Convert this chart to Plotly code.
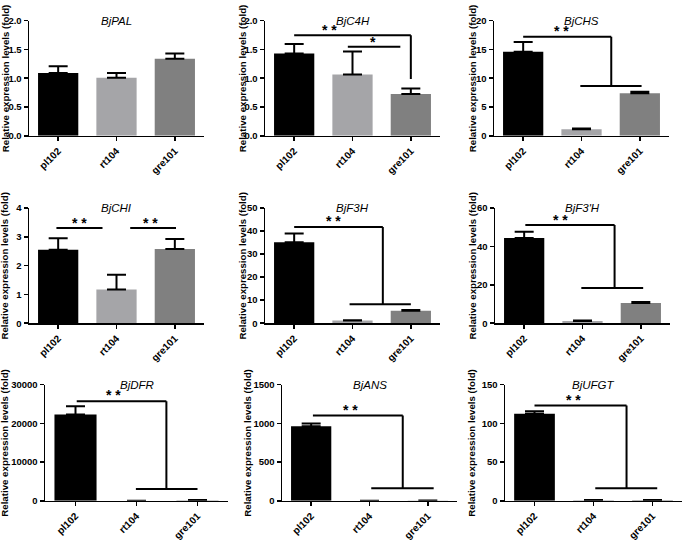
import plotly.graph_objects as go

W, H = 685, 541

categories = ["pl102", "rt104", "gre101"]
genes = ["BjPAL", "BjC4H", "BjCHS", "BjCHI", "BjF3H", "BjF3'H", "BjDFR", "BjANS", "BjUFGT"]

pal_mean = [1.09, 1.01, 1.34]
pal_err = [0.12, 0.08, 0.09]
c4h_mean = [1.43, 1.065, 0.725]
c4h_err = [0.165, 0.40, 0.095]
chs_mean = [14.6, 1.13, 7.37]
chs_err = [1.7, 0.12, 0.28]
chi_mean = [2.55, 1.17, 2.58]
chi_err = [0.40, 0.51, 0.34]
f3h_mean = [35.1, 1.13, 5.4]
f3h_err = [3.85, 0.2, 0.3]
f3ph_mean = [44.4, 1.2, 10.46]
f3ph_err = [3.3, 0.2, 0.55]
dfr_mean = [22320, 1, 150]
dfr_err = [2130, 0, 30]
ans_mean = [964, 1, 3]
ans_err = [35, 0.2, 0.5]
ufgt_mean = [112.4, 1, 1]
ufgt_err = [3.4, 0.1, 0.1]

means = [pal_mean, c4h_mean, chs_mean, chi_mean, f3h_mean, f3ph_mean, dfr_mean, ans_mean, ufgt_mean]
errs = [pal_err, c4h_err, chs_err, chi_err, f3h_err, f3ph_err, dfr_err, ans_err, ufgt_err]

y_max = [2.0, 2.0, 20, 4, 50, 60, 30000, 1500, 150]
y_dtick = [0.5, 0.5, 5, 1, 10, 20, 10000, 500, 50]
y_fmt = [".1f", ".1f", "d", "d", "d", "d", "d", "d", "d"]

# significance brackets (data units: category index, value)
sig_segments = [
    [],
    [(0, 1.745, 2, 1.745), (2, 1.745, 2, 0.985), (0.92, 1.545, 1.82, 1.545)],
    [(0, 17.2, 1.51, 17.2), (1.51, 17.2, 1.51, 8.67), (0.98, 8.67, 2.03, 8.67)],
    [(-0.03, 3.31, 0.76, 3.31), (1.235, 3.31, 2.02, 3.31)],
    [(0, 41.8, 1.52, 41.8), (1.52, 41.8, 1.52, 8.2), (0.95, 8.2, 2.0, 8.2)],
    [(0.02, 51.1, 1.55, 51.1), (1.55, 51.1, 1.55, 18.35), (0.98, 18.35, 2.04, 18.35)],
    [(0.02, 25750, 1.49, 25750), (1.49, 25750, 1.49, 3025), (0.99, 3025, 2.0, 3025)],
    [(0.03, 1101, 1.57, 1101), (1.57, 1101, 1.57, 163), (1.03, 163, 2.1, 163)],
    [(0, 123, 1.56, 123), (1.56, 123, 1.56, 16.2), (1.03, 16.2, 2.08, 16.2)],
]
sig_stars = [
    [],
    [(0.61, 1.84, "* *"), (1.35, 1.63, "*")],
    [(0.66, 18.2, "* *")],
    [(0.36, 3.49, "* *"), (1.59, 3.49, "* *")],
    [(0.67, 44.3, "* *")],
    [(0.62, 54, "* *")],
    [(0.62, 27220, "* *")],
    [(0.68, 1179, "* *")],
    [(0.66, 130.8, "* *")],
]

bar_colors = ["#000000", "#a5a5a8", "#808080"]

# layout in pixels
x_px = [(29, 204), (265, 440), (494, 669),
        (29, 204), (265, 440), (495, 670),
        (45, 228), (282, 457), (505, 682)]
y_px_rows = [(15, 133), (207, 325), (388, 507)]
ytitle_px = [5, 242, 472, 5, 243, 473, 5, 248, 472]

FONT = "Liberation Sans, Arial, Helvetica, sans-serif"

fig = go.Figure()
layout = dict(width=W, height=H, margin=dict(l=0, r=0, t=0, b=0),
              paper_bgcolor="white", plot_bgcolor="white", showlegend=False)
shapes = []
annotations = []

for i in range(9):
    n = i + 1
    xa = "x" if n == 1 else f"x{n}"
    ya = "y" if n == 1 else f"y{n}"
    xkey = "xaxis" if n == 1 else f"xaxis{n}"
    ykey = "yaxis" if n == 1 else f"yaxis{n}"
    row = i // 3
    x0, x1 = x_px[i]
    yt, yb = y_px_rows[row]
    fig.add_trace(go.Bar(
        x=categories, y=means[i], xaxis=xa, yaxis=ya,
        marker=dict(color=bar_colors, line=dict(width=0)),
        width=0.69,
        error_y=dict(type="data", symmetric=False, array=errs[i],
                     arrayminus=[0, 0, 0], color="black", thickness=2, width=9.5),
    ))
    layout[xkey] = dict(domain=[x0 / W, x1 / W], anchor=ya, range=[-0.5, 2.5],
                        showline=True, linecolor="black", linewidth=1.5,
                        ticks="outside", ticklen=4, tickwidth=1.5, tickcolor="black",
                        tickangle=-45, showgrid=False, zeroline=False,
                        tickfont=dict(family=FONT, size=10, color="black", weight="bold"))
    layout[ykey] = dict(domain=[1 - yb / H, 1 - yt / H], anchor=xa, range=[0, y_max[i]],
                        dtick=y_dtick[i], tick0=0, tickformat=y_fmt[i],
                        showline=True, linecolor="black", linewidth=1.5,
                        ticks="outside", ticklen=4, tickwidth=1.5, tickcolor="black",
                        showgrid=False, zeroline=False,
                        tickfont=dict(family=FONT, size=9.5, color="black", weight="bold"))
    annotations.append(dict(text=genes[i], xref="paper", yref="paper",
                            x=((x0 + x1) / 2) / W, y=1 - yt / H, xanchor="center", yanchor="middle",
                            showarrow=False,
                            font=dict(family=FONT, size=11.5, color="black", style="italic")))
    annotations.append(dict(text="Relative expression levels (fold)", xref="paper", yref="paper",
                            x=ytitle_px[i] / W, y=1 - ((yt + yb) / 2) / H,
                            xanchor="center", yanchor="middle", textangle=-90, showarrow=False,
                            font=dict(family=FONT, size=9.7, color="black", weight="bold")))
    for (sx0, sy0, sx1, sy1) in sig_segments[i]:
        shapes.append(dict(type="line", xref=xa, yref=ya, x0=sx0, y0=sy0, x1=sx1, y1=sy1,
                           line=dict(color="black", width=2)))
    for (sx, sy, st) in sig_stars[i]:
        annotations.append(dict(text=st, xref=xa, yref=ya, x=sx, y=sy,
                                xanchor="center", yanchor="middle", showarrow=False,
                                font=dict(family=FONT, size=14, color="black", weight="bold")))

layout["shapes"] = shapes
layout["annotations"] = annotations
fig.update_layout(**layout)
fig.write_html("out.html", config={"displayModeBar": False, "staticPlot": True},
               post_script="document.body.style.margin='0';document.body.style.overflow='hidden';")
